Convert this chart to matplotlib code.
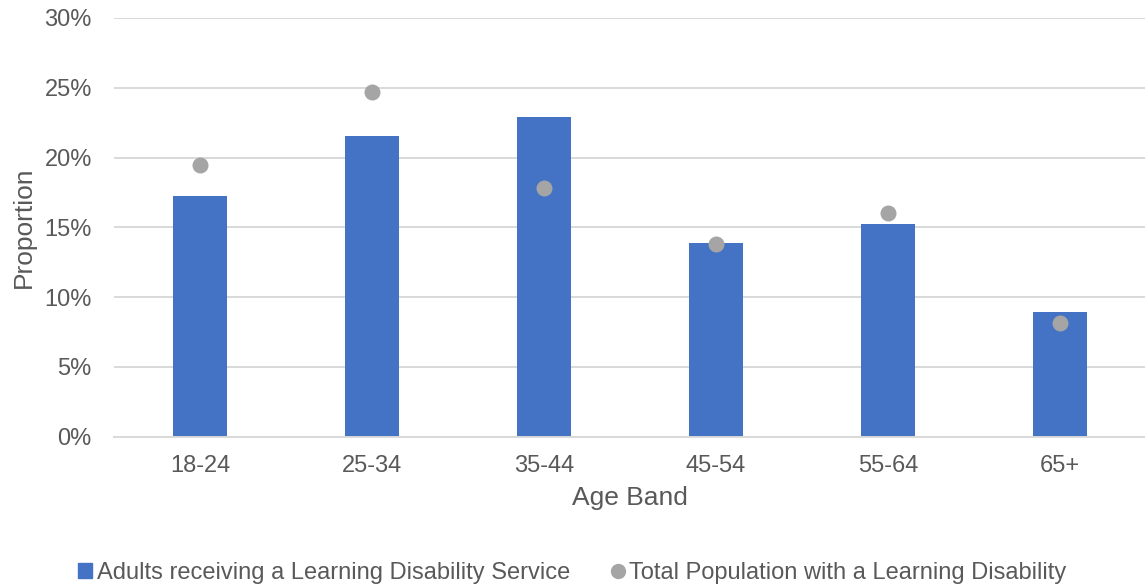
import numpy as np
import matplotlib.pyplot as plt
from matplotlib.ticker import PercentFormatter
from matplotlib.lines import Line2D
from matplotlib.patches import Patch

plt.rcParams['font.family'] = ['Liberation Sans', 'DejaVu Sans']

# proportions by age band (%)
bandas = ['18-24', '25-34', '35-44', '45-54', '55-64', '65+']
servicio = [17.25, 21.55, 22.9, 13.9, 15.25, 8.95]
poblacion = [19.45, 24.7, 17.8, 13.8, 16.0, 8.15]

azul = '#4472c4'
gris = '#a5a5a5'
texto = '#595959'

fig = plt.figure(figsize=(11.45, 5.88), dpi=100)
ax = fig.add_axes([114/1145, 1 - 436.5/588, 1032/1145, (436.5 - 18)/588])

x = np.arange(len(bandas))
ax.bar(x, servicio, width=0.314, color=azul, zorder=2)
ax.plot(x, poblacion, linestyle='none', marker='o', markersize=10.5,
        color=gris, zorder=3)

ax.set_xlim(-0.5, len(bandas) - 0.5)
ax.set_ylim(0, 30)
ax.set_yticks(np.arange(0, 31, 5))
ax.yaxis.set_major_formatter(PercentFormatter(decimals=0))
ax.set_xticks(x)
ax.set_xticklabels(bandas)

ax.grid(axis='y', color='#d9d9d9', linewidth=1.4, zorder=0)
ax.set_axisbelow(True)
for s in ['top', 'right', 'left']:
    ax.spines[s].set_visible(False)
ax.spines['bottom'].set_color('#d9d9d9')
ax.spines['bottom'].set_linewidth(1.4)
ax.tick_params(axis='both', length=0, labelsize=17, colors=texto)
ax.tick_params(axis='x', pad=13)
ax.tick_params(axis='y', pad=16)

ax.set_xlabel('Age Band', fontsize=19, color=texto, labelpad=7)
ax.set_ylabel('Proportion', fontsize=19, color=texto, labelpad=6)

# leyenda
handles = [Patch(color=azul), Line2D([], [], linestyle='none', marker='o',
                                     markersize=10, color=gris)]
etiquetas = ['Adults receiving a Learning Disability Service',
             'Total Population with a Learning Disability']
fig.legend(handles, etiquetas, loc='center', bbox_to_anchor=(0.5, 1 - 573/588),
           ncol=2, frameon=False, fontsize=17, labelcolor=texto,
           handlelength=0.6, handleheight=0.6, handletextpad=0.2,
           columnspacing=1.7)

fig.savefig('out.png', dpi=100)
